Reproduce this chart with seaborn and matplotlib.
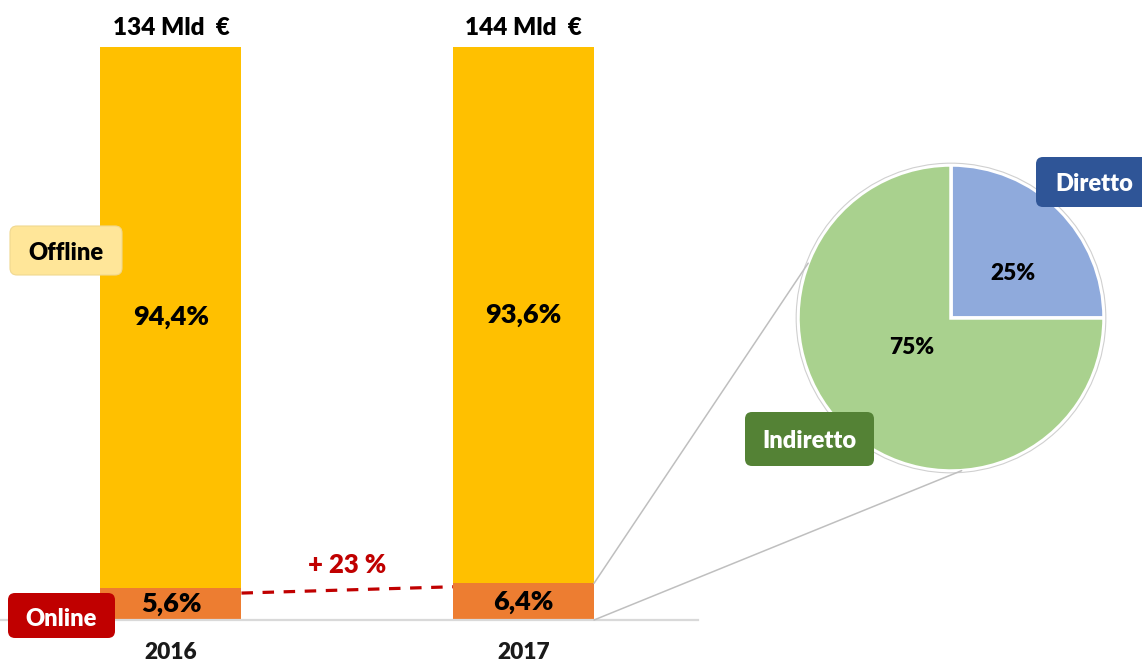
import matplotlib
matplotlib.use("Agg")
import matplotlib.pyplot as plt
import seaborn as sns
import pandas as pd
import numpy as np
from matplotlib.patches import FancyBboxPatch, ConnectionPatch, Circle

# Market split (% of total), totals in billions of euro
years = ["2016", "2017"]
online_share = [5.6, 6.4]
offline_share = [94.4, 93.6]
totals_bn = [134, 144]
online_growth = 23

# Breakdown of the 2017 online share
pie_labels = ["Diretto", "Indiretto"]
pie_shares = [25, 75]

sns.set_theme(style="white")
plt.rcParams["font.family"] = ["Lato", "DejaVu Sans"]
WEIGHT = "heavy"
plt.rcParams["font.weight"] = WEIGHT

W, H = 1142, 662
fig = plt.figure(figsize=(W / 100, H / 100), dpi=100)


def fx(px):
    return px / W


def fy(py):
    return 1 - py / H


def it(v):
    return f"{v:.1f}".replace(".", ",")


# ---- stacked 100% bars ----
ax = fig.add_axes([0, fy(620), fx(698), (620 - 47) / H])
df = pd.DataFrame({"year": years, "online": online_share, "offline": offline_share})
df["total"] = df["online"] + df["offline"]
sns.barplot(data=df, x="year", y="total", color="#FFC000", width=0.4,
            saturation=1, linewidth=0, ax=ax)
sns.barplot(data=df, x="year", y="online", color="#ED7D31", width=0.4,
            saturation=1, linewidth=0, ax=ax)
ax.set_xlim(-0.485, 1.495)
ax.set_ylim(0, 100)
ax.set_xlabel("")
ax.set_ylabel("")
ax.set_xticks([])
ax.set_yticks([])
for s in ["top", "left", "right"]:
    ax.spines[s].set_visible(False)
ax.spines["bottom"].set_color("#D9D9D9")
ax.spines["bottom"].set_linewidth(1.6)

for i, yr in enumerate(years):
    on, off = online_share[i], offline_share[i]
    ax.text(i, on + off / 2, f"{it(off)}%", ha="center", va="center",
            fontsize=19.5, fontweight=WEIGHT, color="black")
    ax.text(i, on / 2, f"{it(on)}%", ha="center", va="center",
            fontsize=19.5, fontweight=WEIGHT, color="black")
    ax.text(i, 103.3, f"{totals_bn[i]} Mld  €", ha="center", va="center",
            fontsize=17.5, fontweight=WEIGHT, color="black", clip_on=False)
    ax.text(i, -5.7, yr, ha="center", va="center", fontsize=16.3,
            fontweight=WEIGHT, color="#1a1a1a", clip_on=False)

# growth of the online segment
ax.plot([0.2, 0.8], [online_share[0] - 0.9, online_share[1] - 0.6],
        ls=(0, (3.6, 3)), color="#C00000", lw=2.3, clip_on=False)
ax.text(0.5, 9.6, f"+ {online_growth} %", ha="center", va="center",
        fontsize=18.5, fontweight=WEIGHT, color="#C00000")

# ---- pie of the online share ----
R, cx, cy = 153, 951, 318
pax = fig.add_axes([fx(cx - R), fy(cy + R), 2 * R / W, 2 * R / H])
wedges, _, pcts = pax.pie(
    pie_shares, colors=["#8FAADC", "#A9D18E"], startangle=90,
    counterclock=False, autopct=lambda p: f"{p:.0f}%", pctdistance=0.5,
    wedgeprops=dict(edgecolor="white", linewidth=2.5),
    textprops=dict(fontsize=16.3, fontweight=WEIGHT, color="black"))
for w in wedges:
    w.set_clip_on(False)
pax.add_patch(Circle((0, 0), 1.012, fill=False, ec="#D0D0D0", lw=0.8,
                     clip_on=False))
# label placement inside each wedge
for t, (r, deg) in zip(pcts, [(0.5, 36), (0.32, 217)]):
    a = np.deg2rad(deg)
    t.set_position((r * np.cos(a), r * np.sin(a)))
pax.set_xlim(-1, 1)
pax.set_ylim(-1, 1)
pax.set_aspect("equal")
pax.axis("off")

# connectors from the 2017 online segment to the pie
for yA, deg in [(online_share[1], 159), (0, -86)]:
    a = np.deg2rad(deg)
    con = ConnectionPatch(xyA=(1.2, yA), coordsA=ax.transData,
                          xyB=(np.cos(a), np.sin(a)), coordsB=pax.transData,
                          color="#BFBFBF", lw=1.1)
    fig.add_artist(con)

# ---- label tags (pixel overlay) ----
ov = fig.add_axes([0, 0, 1, 1])
ov.set_xlim(0, W)
ov.set_ylim(H, 0)
ov.axis("off")


def tag(x0, y0, x1, y1, text, fc, tc, ec="none", dy=2):
    p = FancyBboxPatch((x0, y0), x1 - x0, y1 - y0,
                       boxstyle="round,pad=0,rounding_size=7",
                       fc=fc, ec=ec, lw=0.8)
    ov.add_patch(p)
    ov.text((x0 + x1) / 2, (y0 + y1) / 2 + dy, text, ha="center",
            va="center", fontsize=17, fontweight=WEIGHT, color=tc)


tag(10, 226, 122, 275, "Offline", "#FFE699", "black", ec="#F0D890")
tag(8, 593, 115, 638, "Online", "#C00000", "white", dy=4)
tag(1036, 157, 1152, 207, pie_labels[0], "#2F5597", "white")
tag(745, 412, 874, 466, pie_labels[1], "#548235", "white")

fig.savefig("out.png", dpi=100)
